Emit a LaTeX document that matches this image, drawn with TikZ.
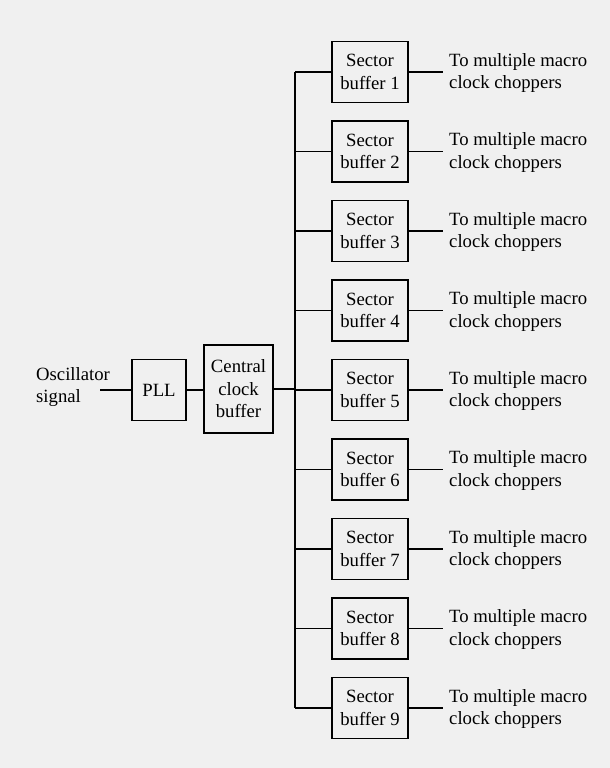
\documentclass[tikz,border=0pt]{standalone}
\usepackage{fontspec}
\setmainfont{Liberation Serif}
\begin{document}
\begin{tikzpicture}[x=1pt,y=-1pt,
  every node/.style={font=\fontsize{18.7}{22.5}\selectfont, text=black},
  blk/.style={draw, line width=1.5pt, inner sep=0pt, align=center},
  sect/.style={blk, minimum width=76pt, minimum height=61pt},
  wire/.style={line width=1.5pt},
  lbl/.style={align=left, anchor=west, inner sep=0pt}]
\fill[gray!12] (0,0) rectangle (610,768);
\useasboundingbox (0,0) rectangle (610,768);

\node[lbl] (osc) at (36,387) {Oscillator\\signal};
\coordinate (oin) at (100,390);
\node[blk, minimum width=54pt, minimum height=61pt] (pll) at (159,390) {PLL};
\node[blk, minimum width=69pt, minimum height=88pt] (cen) at (238.5,389) {Central\\clock\\buffer};
\draw[wire] (oin) -- (pll.west);
\draw[wire] (pll.east) -- (cen.west |- pll.east);

\foreach \i in {1,...,9}{
  \pgfmathsetmacro{\yy}{72+(\i-1)*79.5}
  \coordinate (b\i) at (295,\yy);
  \node[sect] (s\i) at (370,\yy) {Sector\\buffer \i};
  \coordinate (e\i) at (443,\yy);
  \node[lbl] (t\i) at (449,\yy+1) {To multiple macro\\clock choppers};
  \draw[wire] (b\i) -- (s\i.west);
  \draw[wire] (s\i.east) -- (e\i);
}
\draw[wire] (b1) -- (b9);
\draw[wire] (cen.east) -- (cen.east -| b1);
\end{tikzpicture}
\end{document}
